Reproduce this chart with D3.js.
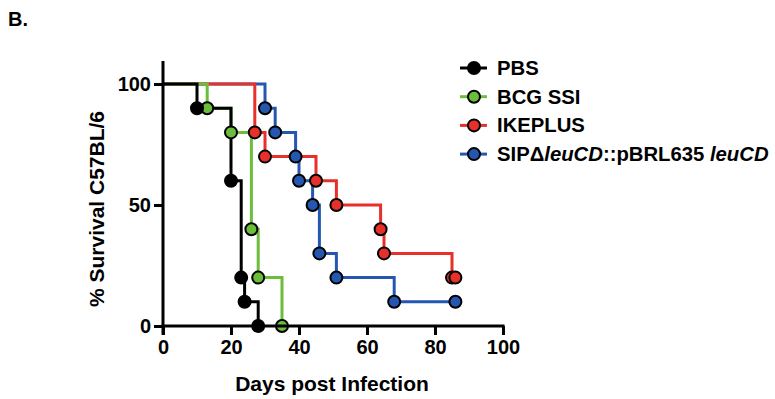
<!DOCTYPE html>
<html>
<head>
<meta charset="utf-8">
<script src="https://cdn.jsdelivr.net/npm/d3@7"></script>
<style>
body { margin: 0; background: #fff; }
text { font-family: "Liberation Sans", Arial, sans-serif; font-weight: bold; }
</style>
</head>
<body>
<script>
// survival steps: day of each event and % surviving after it
var pbsDays = [0, 10, 20, 23, 24, 28],
    pbsSurv = [100, 90, 60, 20, 10, 0];
var bcgDays = [0, 13, 20, 26, 28, 35],
    bcgSurv = [100, 90, 80, 40, 20, 0];
var ikeDays = [0, 27, 30, 45, 51, 64, 65, 85, 86],
    ikeSurv = [100, 80, 70, 60, 50, 40, 30, 20, 20];
var sipDays = [0, 30, 33, 39, 40, 44, 46, 51, 68, 86],
    sipSurv = [100, 90, 80, 70, 60, 50, 30, 20, 10, 10];

var xTicks = [0, 20, 40, 60, 80, 100],
    yTicks = [0, 50, 100];

var series = [
  {name: "PBS", days: pbsDays, surv: pbsSurv, color: "#000000", fill: "#000000"},
  {name: "BCG SSI", days: bcgDays, surv: bcgSurv, color: "#6cbd3c", fill: "#6cbd3c"},
  {name: "IKEPLUS", days: ikeDays, surv: ikeSurv, color: "#e8302b", fill: "#e8302b"},
  {name: "SIP", days: sipDays, surv: sipSurv, color: "#2557b0", fill: "#2557b0"}
];

var svg = d3.select("body").append("svg")
  .attr("width", 775)
  .attr("height", 399);

var x = d3.scaleLinear().domain([0, 100]).range([163, 503]),
    y = d3.scaleLinear().domain([0, 100]).range([326, 84]);

svg.append("text")
  .attr("x", 8).attr("y", 26)
  .style("font-size", "20px")
  .text("B.");

var line = d3.line()
  .x(function(d) { return x(d[0]); })
  .y(function(d) { return y(d[1]); })
  .curve(d3.curveStepAfter);

// draw in reverse so black sits on top
series.slice().reverse().forEach(function(s) {
  var pts = s.days.map(function(d, i) { return [d, s.surv[i]]; });
  svg.append("path")
    .attr("d", line(pts))
    .attr("fill", "none")
    .attr("stroke", s.color)
    .attr("stroke-width", 3);
});

series.slice().reverse().forEach(function(s) {
  var pts = s.days.map(function(d, i) { return [d, s.surv[i]]; }).slice(1);
  svg.append("g").selectAll("circle")
    .data(pts)
    .enter()
    .append("circle")
    .attr("cx", function(d) { return x(d[0]); })
    .attr("cy", function(d) { return y(d[1]); })
    .attr("r", 6)
    .attr("fill", s.fill)
    .attr("stroke", "#000")
    .attr("stroke-width", 2);
});

// axes
var xAxis = svg.append("g")
  .attr("transform", "translate(0,326)")
  .call(d3.axisBottom(x).tickValues(xTicks).tickSize(9).tickPadding(5));
var yAxis = svg.append("g")
  .attr("transform", "translate(163,0)")
  .call(d3.axisLeft(y).tickValues(yTicks).tickSize(9).tickPadding(3));

[xAxis, yAxis].forEach(function(a) {
  a.select(".domain").remove();
  a.selectAll("line").attr("stroke", "#000").attr("stroke-width", 3);
  a.selectAll("text").attr("fill", "#000").style("font-size", "20px");
});

svg.append("line")
  .attr("x1", 163).attr("x2", 163).attr("y1", 61).attr("y2", 335)
  .attr("stroke", "#000").attr("stroke-width", 3);
svg.append("line")
  .attr("x1", 161.5).attr("x2", 504.5).attr("y1", 326).attr("y2", 326)
  .attr("stroke", "#000").attr("stroke-width", 3);

svg.append("text")
  .attr("transform", "translate(104,209) rotate(-90)")
  .attr("text-anchor", "middle")
  .style("font-size", "21px")
  .text("% Survival C57BL/6");

svg.append("text")
  .attr("x", 332).attr("y", 391)
  .attr("text-anchor", "middle")
  .style("font-size", "21px")
  .text("Days post Infection");

// legend
var leg = svg.append("g").selectAll("g")
  .data(series)
  .enter()
  .append("g")
  .attr("transform", function(d, i) { return "translate(460," + (68 + i * 28.7) + ")"; });

leg.append("line")
  .attr("x1", 0).attr("x2", 27)
  .attr("stroke", function(d) { return d.color; })
  .attr("stroke-width", 3);
leg.append("circle")
  .attr("cx", 14).attr("r", 6)
  .attr("fill", function(d) { return d.fill; })
  .attr("stroke", "#000").attr("stroke-width", 2);

var lt = leg.append("text")
  .attr("x", 37).attr("y", 7)
  .style("font-size", "20.3px");
lt.filter(function(d) { return d.name != "SIP"; })
  .text(function(d) { return d.name; });
var sipText = lt.filter(function(d) { return d.name == "SIP"; });
sipText.append("tspan").text("SIP\u0394");
sipText.append("tspan").style("font-style", "italic").text("leuCD");
sipText.append("tspan").text("::pBRL635 ");
sipText.append("tspan").style("font-style", "italic").text("leuCD");
</script>
</body>
</html>
